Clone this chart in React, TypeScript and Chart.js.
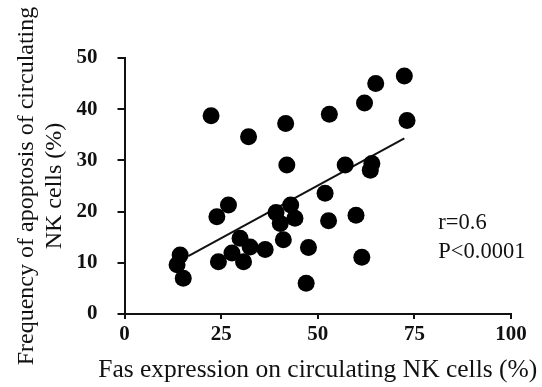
import React, { useEffect, useRef } from "react";
import { Chart, registerables } from "chart.js";

Chart.register(...registerables);

const fasExpression = [
  22.4, 32.1, 41.7, 42.0, 53.0, 62.1, 65.0, 72.4, 73.1, 57.1, 64.0, 63.6,
  51.9, 52.8, 59.9, 47.6, 61.4, 47.0, 26.9, 23.9, 39.2, 43.0, 44.1, 40.3,
  41.1, 29.9, 36.4, 32.5, 30.8, 24.3, 27.8, 14.4, 13.6, 15.2,
];
const apoptosis = [
  38.7, 34.6, 37.2, 29.1, 39.0, 41.2, 45.0, 46.5, 37.8, 29.1, 29.4, 28.1,
  23.6, 18.2, 19.3, 13.0, 11.1, 6.0, 21.3, 19.0, 19.8, 21.3, 18.7, 17.7,
  14.5, 14.8, 12.6, 13.1, 10.2, 10.2, 11.9, 11.5, 9.6, 7.0,
];
const fitX = [16.5, 72.4];
const fitY = [11.3, 34.3];
const xTicks = [0, 25, 50, 75, 100];
const yTicks = [0, 10, 20, 30, 40, 50];
const statsLabels = ["r=0.6", "P<0.0001"];
const statsX = 81.2;
const statsY = [17.8, 12.1];
const xTitle = "Fas expression on circulating NK cells (%)";
const yTitle = ["Frequency of apoptosis of circulating", "NK cells (%)"];

const FONT = "'Liberation Serif', 'Times New Roman', serif";

export default function App() {
  const ref = useRef<HTMLCanvasElement | null>(null);
  useEffect(() => {
    if (!ref.current) return;
    const textPlugin = {
      id: "texts",
      afterDraw(chart: any) {
        const { ctx, scales, chartArea } = chart;
        ctx.save();
        ctx.fillStyle = "#111";
        ctx.font = `22.5px ${FONT}`;
        ctx.textAlign = "left";
        ctx.textBaseline = "middle";
        statsLabels.forEach((t, i) => {
          ctx.fillText(
            t,
            scales.x.getPixelForValue(statsX),
            scales.y.getPixelForValue(statsY[i])
          );
        });
        // x-axis title (drawn unsqueezed, wider than the plot area)
        ctx.font = `25.5px ${FONT}`;
        ctx.textAlign = "center";
        ctx.textBaseline = "middle";
        ctx.fillText(xTitle, (chartArea.left + chartArea.right) / 2, scales.x.bottom - 17);
        ctx.restore();
      },
    };
    const chart = new Chart(ref.current, {
      type: "scatter",
      data: {
        datasets: [
          {
            data: fasExpression.map((x, i) => ({ x, y: apoptosis[i] })),
            backgroundColor: "#000",
            borderColor: "#000",
            pointRadius: 8.5,
            pointHoverRadius: 8.5,
            borderWidth: 0,
          },
          {
            type: "line",
            data: fitX.map((x, i) => ({ x, y: fitY[i] })),
            borderColor: "#111",
            borderWidth: 2,
            pointRadius: 0,
            fill: false,
          } as any,
        ],
      },
      options: {
        responsive: false,
        animation: false,
        events: [],
        layout: { padding: { top: 58, right: 31, left: 0, bottom: 0 } },
        plugins: { legend: { display: false }, tooltip: { enabled: false } },
        scales: {
          x: {
            type: "linear",
            min: 0,
            max: 100,
            afterBuildTicks: (s: any) => {
              s.ticks = xTicks.map((v) => ({ value: v }));
            },
            afterFit: (s: any) => {
              s.height = 73;
            },
            border: { color: "#111", width: 2 },
            grid: {
              drawOnChartArea: false,
              drawTicks: true,
              tickLength: 5,
              color: "#111",
              lineWidth: 2,
            },
            ticks: {
              color: "#111",
              padding: 3,
              font: { family: FONT, size: 21, weight: "bold" },
            },
            title: { display: false },
          },
          y: {
            type: "linear",
            min: 0,
            max: 50,
            afterBuildTicks: (s: any) => {
              s.ticks = yTicks.map((v) => ({ value: v }));
            },
            afterFit: (s: any) => {
              s.width = 124.5;
            },
            border: { color: "#111", width: 2 },
            grid: {
              drawOnChartArea: false,
              drawTicks: true,
              tickLength: 7,
              color: "#111",
              lineWidth: 2,
            },
            ticks: {
              color: "#111",
              padding: 20,
              font: { family: FONT, size: 21, weight: "bold" },
            },
            title: {
              display: true,
              text: yTitle,
              color: "#111",
              padding: { top: 13, bottom: 0 },
              font: { family: FONT, size: 24, lineHeight: 1.15 },
            },
          },
        },
      },
      plugins: [textPlugin],
    });
    return () => chart.destroy();
  }, []);
  return (
    <div style={{ position: "fixed", left: 0, top: 0, width: 542, height: 387, background: "#fff" }}>
      <canvas ref={ref} width={542} height={387} />
    </div>
  );
}
